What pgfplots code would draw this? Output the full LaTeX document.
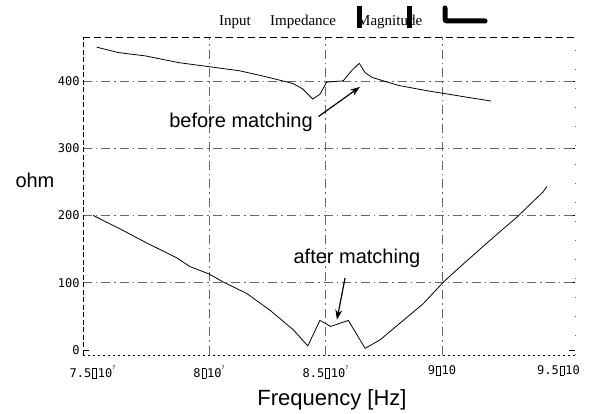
\documentclass[border=0pt]{standalone}
\usepackage{pgfplots}
\pgfplotsset{compat=1.18}
\usepackage{fontspec}
\setmainfont{Liberation Sans}
\newfontfamily\monof{DejaVu Sans Mono}
\newfontfamily\titlef{Liberation Serif}
\usetikzlibrary{arrows.meta}
\newcommand\bx{\hspace{0.08em}{\setlength\fboxrule{0.5pt}\setlength\fboxsep{0pt}\fbox{\rule{0pt}{0.72em}\hspace{0.3em}}}\hspace{0.08em}}
\newcommand\sx{\raisebox{0.7em}{\fontsize{5bp}{5bp}\selectfont 7}}
\begin{document}
\begin{tikzpicture}
\path[use as bounding box] (-83bp,-59bp) rectangle (509bp,355bp);
\begin{axis}[
  at={(0,0)}, anchor=south west,
  scale only axis, width=492bp, height=318bp,
  xmin=7.4592, xmax=9.5708, ymin=-7.43, ymax=465.1,
  axis line style={draw=none},
  xtick={7.5,8,8.5,9,9.5},
  xticklabels={7.5\bx10\sx, 8\bx10\sx, 8.5\bx10\sx, 9\bx10, 9.5\bx10},
  xtick style={draw=none},
  ytick={0,100,200,300,400},
  yticklabels={0,100,200,300,400},
  tick align=inside, major tick length=6bp,
  ytick style={black, line width=0.6pt},
  ticklabel style={font=\monof\fontsize{12bp}{14bp}\selectfont},
  xticklabel style={yshift=-7bp},
  extra x ticks={8,8.5,9}, extra x tick labels={},
  extra x tick style={xmajorgrids=true, major tick length=0pt},
  extra y ticks={100,200,300,400}, extra y tick labels={},
  extra y tick style={ymajorgrids=true, major tick length=0pt},
  major grid style={black!60, line width=0.5pt, dash pattern=on 9bp off 4bp on 1.5bp off 4bp},
  clip=false,
]
\addplot[black, line width=0.8pt, mark=none] coordinates {
(7.518,450) (7.61,442) (7.727,437) (7.87,427) (8.0,421) (8.13,415) (8.245,406)
(8.36,396) (8.402,388) (8.445,373) (8.476,380) (8.505,398) (8.576,400) (8.612,415)
(8.645,426) (8.67,412) (8.70,405) (8.815,393) (8.94,385) (9.03,380) (9.10,376) (9.21,370)
};
\addplot[black, line width=0.8pt, mark=none] coordinates {
(7.503,200) (7.618,180) (7.733,159) (7.861,137) (7.918,124) (8.0,113) (8.061,101)
(8.162,84) (8.262,59) (8.362,30) (8.424,6) (8.476,44) (8.522,35) (8.598,44) (8.67,2.5)
(8.734,15) (8.82,40) (8.92,69) (9.006,101) (9.092,128) (9.206,163) (9.32,197) (9.434,235) (9.45,243)
};
% frame
\draw[black, line width=0.6pt, dash pattern=on 5bp off 2.5bp] (rel axis cs:0,0) -- (rel axis cs:0,1);
\draw[black, line width=0.6pt, dash pattern=on 7bp off 4bp] (rel axis cs:0,1) -- (rel axis cs:1,1);
\draw[black, line width=0.6pt, dash pattern=on 2bp off 3bp] (rel axis cs:0,0) -- (rel axis cs:1,0);
\draw[black!60, line width=0.6pt, dash pattern=on 1bp off 18bp] (rel axis cs:1,0) -- (rel axis cs:1,1);
% annotations
\node[anchor=base east, inner sep=0, font=\fontsize{20bp}{24bp}\selectfont] at (axis cs:8.446,331) {before matching};
\draw[-{Stealth[length=10bp,width=7bp]}, line width=1.2pt] (axis cs:8.47,347) -- (axis cs:8.648,391);
\node[anchor=base, inner sep=0, font=\fontsize{20bp}{24bp}\selectfont] at (axis cs:8.635,129) {after matching};
\draw[-{Stealth[length=10bp,width=7bp]}, line width=1.2pt] (axis cs:8.584,107) -- (axis cs:8.549,45);
\node[anchor=base, inner sep=0, font=\fontsize{20bp}{24bp}\selectfont] at (axis cs:7.253,241) {ohm};
\node[anchor=base, inner sep=0, font=\fontsize{22bp}{26bp}\selectfont] at (axis cs:8.528,-83) {Frequency [Hz]};
\end{axis}
% title
\node[anchor=base west, inner sep=0, font=\titlef\fontsize{15bp}{17bp}\selectfont] at (136bp,329bp) {Input};
\node[anchor=base west, inner sep=0, font=\titlef\fontsize{15bp}{17bp}\selectfont] at (187bp,329bp) {Impedance};
\node[anchor=base west, inner sep=0, font=\titlef\fontsize{15bp}{17bp}\selectfont] at (274bp,329bp) {Magnitude};
\fill[black] (274bp,327bp) rectangle (279bp,349bp);
\fill[black] (324bp,327bp) rectangle (329bp,349bp);
\draw[black, line width=5bp, line cap=round, rounded corners=2bp] (362bp,347bp) -- (362bp,334bp) -- (402bp,334bp);
\end{tikzpicture}
\end{document}
